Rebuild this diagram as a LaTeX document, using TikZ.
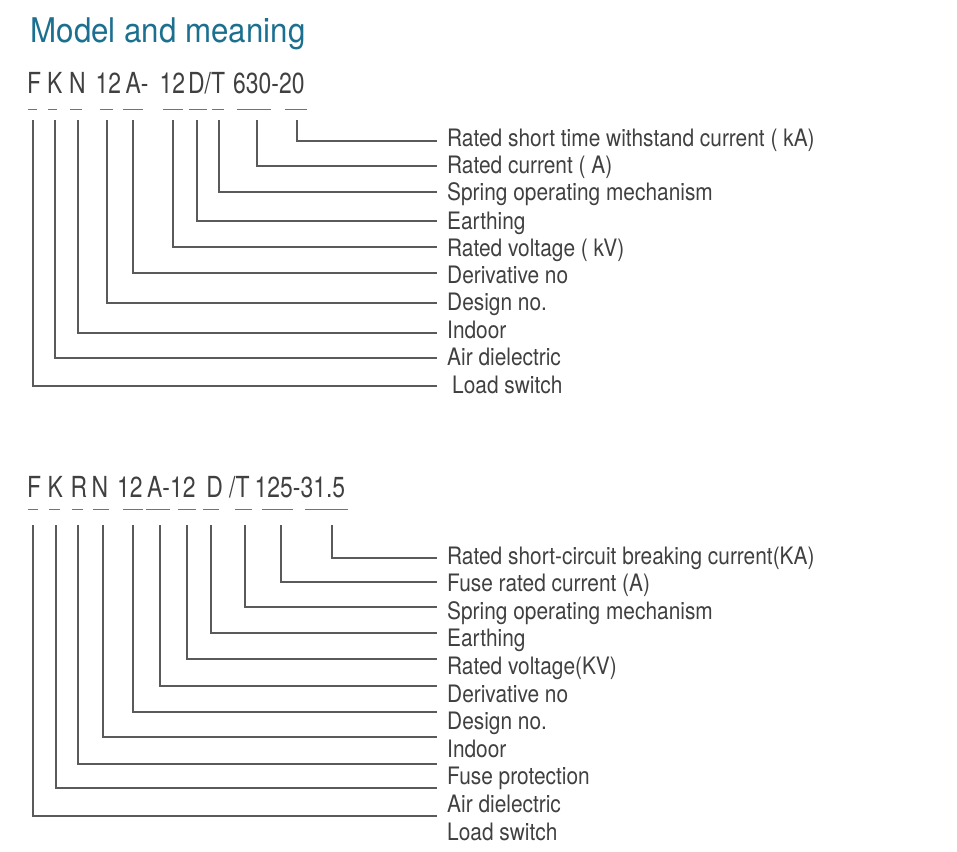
\documentclass[tikz,border=0pt]{standalone}
\usepackage{fontspec}
\setmainfont{TeX Gyre Heros}
\newfontfamily\titlefont{TeX Gyre Heros}[FakeStretch=0.92]
\newfontfamily\labelfont{TeX Gyre Heros}[FakeStretch=0.87]
\newfontfamily\codefont{TeX Gyre Heros}[FakeStretch=0.79]
\definecolor{titleblue}{HTML}{1B6F8F}
\definecolor{txtgray}{HTML}{404040}
\definecolor{linegray}{HTML}{5A5A5A}
\begin{document}
\begin{tikzpicture}[x=1pt,y=-1pt,
  lbl/.style={anchor=base west, inner sep=0pt, font=\labelfont\fontsize{24}{24}\selectfont, text=txtgray},
  codetxt/.style={anchor=base west, inner sep=0pt, font=\codefont\fontsize{29}{29}\selectfont, text=txtgray},
  leader/.style={draw=linegray, line width=1.1pt},
  dashmark/.style={draw=linegray!85, line width=1pt}]
\useasboundingbox (0,0) rectangle (957,851);

% title
\node[anchor=base west, inner sep=0pt, font=\titlefont\fontsize{34}{34}\selectfont, text=titleblue] (title) at (30.5,43) {Model and meaning};

% ---------- first model code ----------
\node[codetxt] (a1) at (27,93) {F};
\node[codetxt] (a2) at (47,93) {K};
\node[codetxt] (a3) at (69,93) {N};
\node[codetxt] (a4) at (95.5,93) {12};
\node[codetxt] (a5) at (125.5,93) {A-};
\node[codetxt] (a6) at (159.5,93) {12};
\node[codetxt] (a7) at (188,93) {D/T};
\node[codetxt] (a8) at (233,93) {630-20};

\foreach \a/\b in {28/37, 48/57, 70/82, 100/113, 123/143, 163/183, 189/207, 212/224, 237/271, 285/307}
  \draw[dashmark] (\a,109) -- (\b,109);

\foreach \n/\y/\t in {
  1/146/{Rated short time withstand current ( kA)},
  2/173/{Rated current ( A)},
  3/200/{Spring operating mechanism},
  4/229/{Earthing},
  5/256/{Rated voltage ( kV)},
  6/283/{Derivative no},
  7/310/{Design no.},
  8/338/{Indoor},
  9/365/{Air dielectric}}
  \node[lbl] (ta\n) at (447,\y) {\t};
\node[lbl] (ta10) at (452,393) {Load switch};

\foreach \n/\x/\y in {1/297/141, 2/257/166, 3/219/192, 4/197/221, 5/173/247, 6/133/273, 7/107/303, 8/78/333, 9/55/358, 10/33/386}{
  \coordinate (ts\n) at (\x,120);
  \coordinate (te\n) at (437,\y);
  \draw[leader] (ts\n) |- (te\n);
}

% ---------- second model code ----------
\node[codetxt] (b1) at (27,497) {F};
\node[codetxt] (b2) at (47.5,497) {K};
\node[codetxt] (b3) at (70.3,497) {R};
\node[codetxt] (b4) at (91.3,497) {N};
\node[codetxt] (b5) at (117,497) {12};
\node[codetxt] (b6) at (147,497) {A-12};
\node[codetxt] (b7) at (206.2,497) {D};
\node[codetxt] (b8) at (229,497) {/T};
\node[codetxt] (b9) at (254.5,497) {125-31.5};

\foreach \a/\b in {28/38, 49/60, 72/83, 93/109, 123/143, 146/170, 178/196, 203/219, 235/252, 262/293, 305/348}
  \draw[dashmark] (\a,509) -- (\b,509);

\foreach \n/\y/\t in {
  1/564/{Rated short-circuit breaking current(KA)},
  2/591.6/{Fuse rated current (A)},
  3/619.2/{Spring operating mechanism},
  4/646.8/{Earthing},
  5/674.4/{Rated voltage(KV)},
  6/702/{Derivative no},
  7/729.6/{Design no.},
  8/757.2/{Indoor},
  9/784.8/{Fuse protection},
  10/812.4/{Air dielectric},
  11/840/{Load switch}}
  \node[lbl] (tb\n) at (447,\y) {\t};

\foreach \n/\x/\y in {1/332/558, 2/281/582, 3/245/607, 4/211/633, 5/187/659, 6/160/686, 7/133/712, 8/103/737, 9/78/764, 10/56/788, 11/33/816}{
  \coordinate (bs\n) at (\x,525);
  \coordinate (be\n) at (437,\y);
  \draw[leader] (bs\n) |- (be\n);
}
\end{tikzpicture}
\end{document}
